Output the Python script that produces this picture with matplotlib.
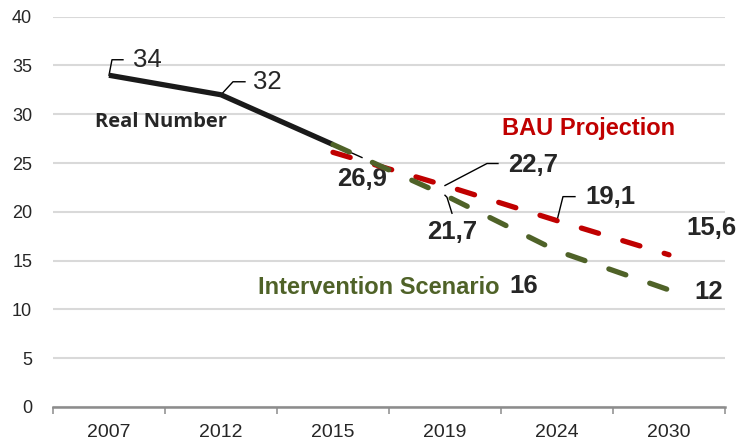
import matplotlib
matplotlib.use("Agg")
import matplotlib.pyplot as plt
import matplotlib.transforms as mtransforms
import numpy as np

plt.rcParams['font.family'] = ['Liberation Sans', 'DejaVu Sans']

years = ["2007", "2012", "2015", "2019", "2024", "2030"]
real_number = [34, 32, 26.9]
bau_projection = [26.1, 22.7, 19.1, 15.6]
intervention = [26.9, 21.7, 16, 12]

real_idx = [0, 1, 2]
proj_idx = [2, 3, 4, 5]

red = '#C00000'
green = '#4F6228'
txt = '#262626'

fig = plt.figure(figsize=(7.4, 4.42), dpi=100)
ax = fig.add_axes([0.0716, 0.0792, 0.9081, 0.883])

ax.plot(real_idx, real_number, color='#1a1a1a', lw=3.8, solid_capstyle='butt', zorder=3)
ax.plot(proj_idx, bau_projection, color=red, lw=3.8, dashes=(3.4, 4.8),
        dash_capstyle='round', zorder=4)
ax.plot(proj_idx, intervention, color=green, lw=3.8, dashes=(3.4, 4.8),
        dash_capstyle='round', zorder=5)

ax.set_xlim(-0.5, 5.5)
ax.set_ylim(0, 40)
ax.set_yticks(np.arange(0, 41, 5))
ax.set_xticks(range(len(years)))
ax.set_xticklabels(years, fontsize=14, color=txt,
                   family=['Liberation Sans Narrow', 'Liberation Sans'])
ax.set_xticks(np.arange(-0.5, 6, 1), minor=True)
ax.tick_params(axis='x', which='major', length=0, pad=12)
ax.tick_params(axis='x', which='minor', length=5, width=1.1, color='#8c8c8c')
ax.tick_params(axis='y', length=0, pad=15, labelsize=13, labelcolor=txt)
ax.grid(axis='y', color='#d9d9d9', lw=1.5)
ax.set_axisbelow(True)
for s in ['left', 'right', 'top']:
    ax.spines[s].set_visible(False)
ax.spines['bottom'].set_color('#8c8c8c')
ax.spines['bottom'].set_linewidth(1.8)


def leader(i, v, pts):
    # polyline in pixel offsets from a data point
    tr = mtransforms.ScaledTranslation(i, v, ax.transData)
    xs = [0] + [p[0] for p in pts]
    ys = [0] + [p[1] for p in pts]
    ax.plot(xs, ys, color='black', lw=1, transform=tr, zorder=2, clip_on=False)


def label(i, v, s, off, bold=True, ha='center'):
    ax.annotate(s, xy=(i, v), xytext=off, textcoords='offset pixels',
                ha=ha, va='center', fontsize=18.5, color=txt,
                fontweight='bold' if bold else 'normal')


# real number labels
leader(0, real_number[0], [(3, 15.5), (14, 15.5)])
label(0, real_number[0], "34", (24, 15.5), bold=False, ha='left')
leader(1, real_number[1], [(12, 13), (24, 13)])
label(1, real_number[1], "32", (32, 13), bold=False, ha='left')
leader(2, real_number[2], [(29, -13)])
label(2, real_number[2], "26,9", (29, -34))

# BAU labels
leader(3, bau_projection[1], [(42, 22), (53, 22)])
label(3, bau_projection[1], "22,7", (63, 21), ha='left')
leader(4, bau_projection[2], [(6, 24), (18, 24)])
label(4, bau_projection[2], "19,1", (28, 24), ha='left')
label(5, bau_projection[3], "15,6", (42, 27))

# intervention labels
leader(3, intervention[1], [(2, -2), (7, -18)])
label(3, intervention[1], "21,7", (7, -37))
label(4, intervention[2], "16", (-33, -35))
label(5, intervention[3], "12", (40, -2))

ax.text(0.464, 29.2, "Real Number", fontsize=14.5, fontweight='bold', color=txt,
        ha='center', va='center', family=['Open Sans', 'Liberation Sans'])
ax.text(4.286, 28.5, "BAU Projection", fontsize=17, fontweight='bold', color=red,
        ha='center', va='center')
ax.text(3.491, 12.2, "Intervention Scenario", fontsize=17, fontweight='bold',
        color=green, ha='right', va='center')

fig.savefig("out.png", dpi=100)
